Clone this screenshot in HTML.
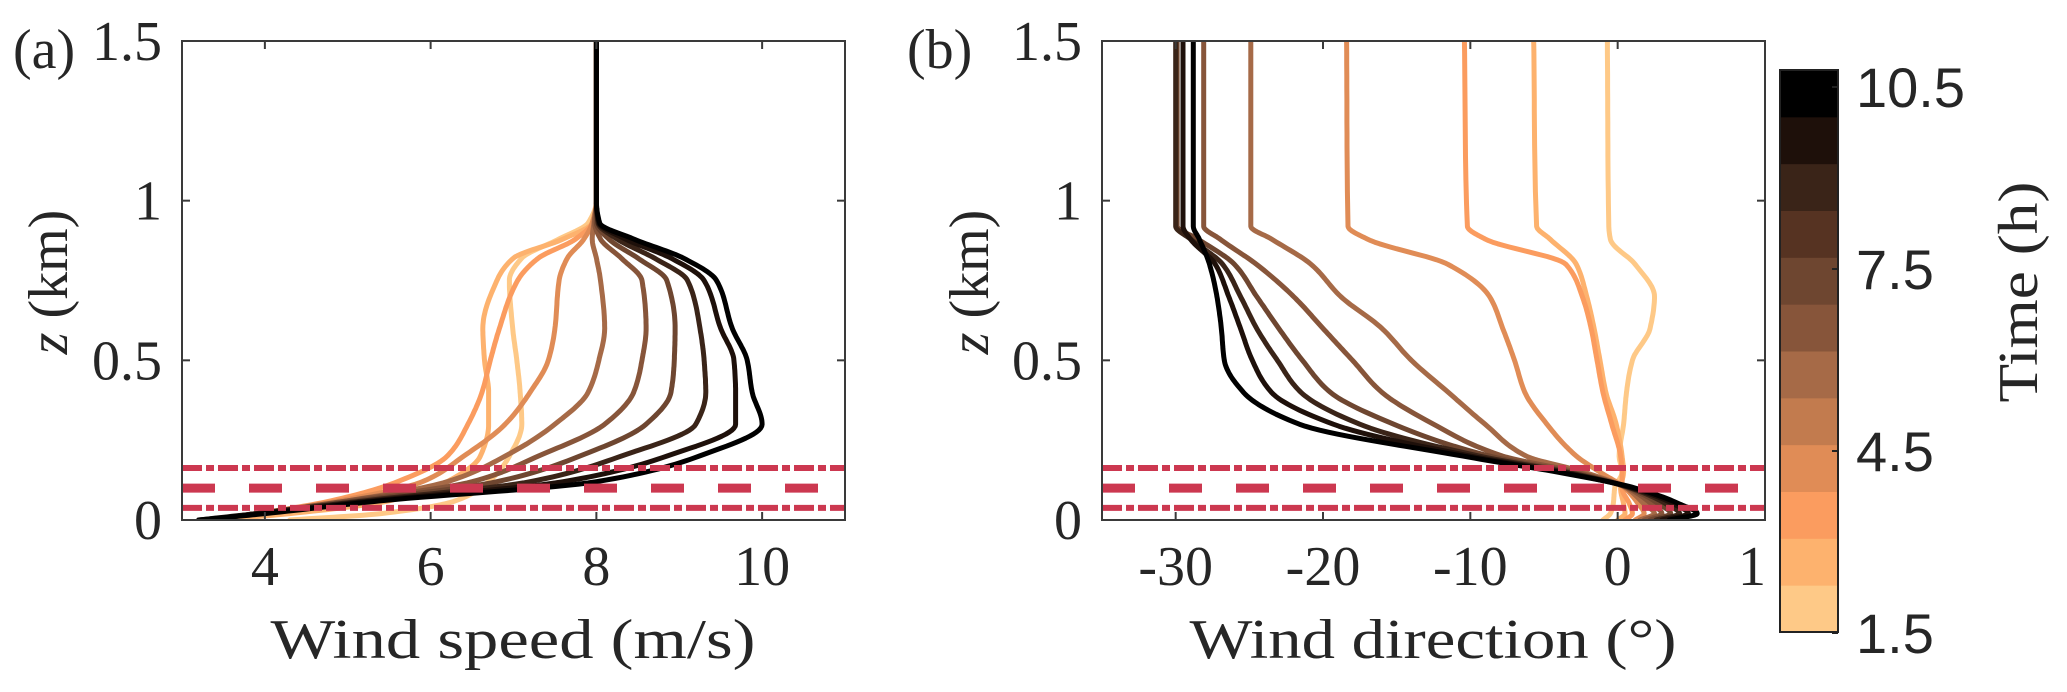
<!DOCTYPE html>
<html><head><meta charset="utf-8"><style>
html,body{margin:0;padding:0;background:#fff;}
svg{display:block;}
.tk{font-family:"Liberation Serif",serif;font-size:56px;fill:#262626;}
.cb{font-family:"Liberation Sans",sans-serif;font-size:56px;fill:#262626;}
</style></head><body>
<svg id="fig" width="2067" height="692" viewBox="0 0 2067 692" xmlns="http://www.w3.org/2000/svg">
<defs>
<clipPath id="clipA"><rect x="182" y="41" width="663" height="479"/></clipPath>
<clipPath id="clipB"><rect x="1102" y="41" width="663" height="479"/></clipPath>
</defs>
<g id="gA"></g>
<g id="gB"></g>
<g id="gC"></g>
<text class="tk" x="13" y="68">(a)</text>
<text class="tk" x="907" y="68">(b)</text>
<text class="tk" x="513" y="658" text-anchor="middle" textLength="485" lengthAdjust="spacingAndGlyphs" font-size="66">Wind speed (m/s)</text>
<text class="tk" x="1433" y="658" text-anchor="middle" textLength="487" lengthAdjust="spacingAndGlyphs" font-size="66">Wind direction (°)</text>
<text class="tk" transform="translate(67,282) rotate(-90)" text-anchor="middle" font-size="64"><tspan font-style="italic">z</tspan> (km)</text>
<text class="tk" transform="translate(988,282) rotate(-90)" text-anchor="middle" font-size="64"><tspan font-style="italic">z</tspan> (km)</text>
<text class="tk" transform="translate(2037,292) rotate(-90)" text-anchor="middle" textLength="221" lengthAdjust="spacingAndGlyphs" font-size="64">Time (h)</text>
</svg>
<script>
const times = [1.5,2.5,3.5,4.5,5.5,6.5,7.5,8.5,9.5,10.5];
const colors = ["#fec987","#fdb26e","#fb9c5f","#e08c56","#a66a47","#87553a","#6e4630","#3a2418","#1e100a","#000000"];
const zA = [1.5,1.0,0.93,0.88,0.82,0.75,0.6,0.5,0.4,0.3,0.2,0.12,0.06,0.02,0.0];
const speed_t1 = [8.0,8.0,7.9,7.55,7.1,6.95,6.99,7.04,7.08,7.1,6.95,6.7,6.3,5.4,4.3];
const speed_t2 = [8.0,8.0,7.95,7.6,7.0,6.8,6.63,6.65,6.7,6.7,6.6,6.2,5.5,4.3,3.4];
const speed_t3 = [8.0,8.0,7.95,7.75,7.3,7.05,6.83,6.72,6.62,6.45,6.2,5.6,4.8,3.9,3.3];
const speed_t4 = [8.0,8.0,7.95,7.85,7.65,7.55,7.5,7.42,7.2,6.9,6.4,5.9,4.9,3.9,3.3];
const speed_t5 = [8.0,8.0,7.97,7.95,8.0,8.05,8.1,8.03,7.9,7.5,6.9,6.2,5.0,3.9,3.3];
const speed_t6 = [8.0,8.0,7.98,8.05,8.3,8.55,8.6,8.55,8.45,8.1,7.3,6.5,5.0,3.9,3.3];
const speed_t7 = [8.0,8.0,8.0,8.15,8.5,8.85,8.95,8.94,8.9,8.6,7.8,6.8,5.1,3.9,3.3];
const speed_t8 = [8.0,8.0,8.02,8.25,8.7,9.1,9.25,9.30,9.32,9.2,8.3,7.2,5.2,3.9,3.3];
const speed_t9 = [8.0,8.0,8.03,8.35,8.9,9.3,9.5,9.66,9.68,9.68,8.85,7.6,5.3,3.9,3.2];
const speed_t10 = [8.0,8.0,8.04,8.45,9.05,9.45,9.64,9.82,9.88,10.0,9.24,8.0,5.4,4.0,3.2];
const zB = [1.5,0.92,0.88,0.8,0.7,0.6,0.5,0.4,0.3,0.2,0.15,0.1,0.05,0.02,0.0];
const dir_t1 = [-0.7,-0.6,-0.5,1.2,2.5,2.2,1.0,0.6,0.4,0.1,0.3,-0.2,-0.3,-0.5,-1.0];
const dir_t2 = [-5.7,-5.5,-4.6,-2.8,-2.1,-1.6,-1.2,-0.8,-0.1,0.3,0.4,0.2,0.4,0.5,0.0];
const dir_t3 = [-10.4,-10.2,-9,-3.5,-2.4,-1.8,-1.4,-1.0,-0.4,0.2,0.3,0.3,0.8,1.0,0.5];
const dir_t4 = [-18.4,-18.3,-17,-11.5,-8.7,-7.8,-7.0,-6.3,-4.8,-2.8,-1.2,0.5,1.4,1.8,1.2];
const dir_t5 = [-24.9,-24.9,-23.5,-20.8,-18.8,-16,-14,-11.5,-9,-6.2,-2.3,0.6,1.8,2.5,1.5];
const dir_t6 = [-28.1,-28.1,-27.0,-24.5,-22.0,-20,-18,-16,-12.5,-7.8,-2.8,0.7,2.3,3.0,1.8];
const dir_t7 = [-29.9,-29.9,-28.5,-26,-24.5,-23,-21.4,-19.5,-15.2,-8.7,-3.2,0.8,2.8,3.6,2.2];
const dir_t8 = [-30.0,-30.0,-29,-26.8,-25.6,-24.5,-23.1,-21.5,-17.5,-9.4,-3.5,0.9,3.3,4.2,2.6];
const dir_t9 = [-29.5,-29.5,-29,-27.3,-26.4,-25.6,-24.8,-23.5,-19.3,-10,-3.8,1.0,3.8,4.8,3.0];
const dir_t10 = [-28.8,-28.8,-28.4,-27.7,-27.2,-26.9,-26.7,-25.4,-21.6,-10.5,-4.1,1.2,4.2,5.4,3.5];
const speeds = [speed_t1,speed_t2,speed_t3,speed_t4,speed_t5,speed_t6,speed_t7,speed_t8,speed_t9,speed_t10];
const dirs = [dir_t1,dir_t2,dir_t3,dir_t4,dir_t5,dir_t6,dir_t7,dir_t8,dir_t9,dir_t10];
const xTicksA = [4,6,8,10];
const xTickLabelsA = ["4","6","8","10"];
const xTicksB = [-30,-20,-10,0,10];
const xTickLabelsB = ["-30","-20","-10","0","1"];
const yTicks = [0,0.5,1,1.5];
const yTickLabels = ["0","0.5","1","1.5"];
const refHeights = [0.038,0.10,0.163];
const cbTicks = [1.5,4.5,7.5,10.5];
const cbTickLabels = ["1.5","4.5","7.5","10.5"];
const cbBands = ["#fec987","#fdb26e","#fb9c5f","#e08c56","#c27b4e","#a66a47","#87553a","#6e4630","#563322","#3a2418","#1e100a","#000000"];

const NS="http://www.w3.org/2000/svg";
function mk(tag, attrs, parent){const e=document.createElementNS(NS,tag);for(const k in attrs)e.setAttribute(k,attrs[k]);parent.appendChild(e);return e;}
const TOP=41,BOT=520,ZMAX=1.5;
function yS(z){return BOT-(z/ZMAX)*(BOT-TOP);}
function mkX(x0,x1,a,b){return v=>x0+(v-a)/(b-a)*(x1-x0);}
const xA=mkX(182,845,3,11), xB=mkX(1102,1765,-35,10);
// monotone cubic (Fritsch-Carlson) of v as a function of z
function monotonePath(zs,vs,xs){
  const n=zs.length,h=[],d=[],m=new Array(n);
  for(let i=0;i<n-1;i++){h.push(zs[i+1]-zs[i]);d.push((vs[i+1]-vs[i])/h[i]);}
  m[0]=d[0];m[n-1]=d[n-2];
  for(let i=1;i<n-1;i++){m[i]=(d[i-1]*d[i]<=0)?0:(3*(h[i-1]+h[i]))/((2*h[i]+h[i-1])/d[i-1]+(h[i]+2*h[i-1])/d[i]);}
  let out=[];
  for(let i=0;i<n-1;i++){
    const N=16;
    for(let k=0;k<(i===n-2?N+1:N);k++){
      const t=k/N,t2=t*t,t3=t2*t;
      const v=(2*t3-3*t2+1)*vs[i]+(t3-2*t2+t)*h[i]*m[i]+(-2*t3+3*t2)*vs[i+1]+(t3-t2)*h[i]*m[i+1];
      const z=zs[i]+t*h[i];
      out.push(xs(v).toFixed(1)+","+yS(z).toFixed(1));
    }
  }
  return "M"+out.join("L");
}
function panel(g,x0,x1,xs,xt,xtl,clip,series,zs,tag){
  const lines=mk("g",{"clip-path":"url(#"+clip+")"},g);
  series.forEach((arr,i)=>{
    const p=mk("path",{d:monotonePath(zs,arr,xs),fill:"none",stroke:colors[i],"stroke-width":5,"stroke-linejoin":"round","stroke-linecap":"round"},lines);
    
    
  });
  refHeights.forEach((hgt,k)=>{
    const y=yS(hgt);
    const dashed=(k===1);
    const l=mk("line",{x1:x0,x2:x1,y1:y,y2:y,stroke:"#cc3850","stroke-width":dashed?9:6,"stroke-dasharray":dashed?"33 34":"20 4 8 4"},lines);
    
    
  });
  const box=mk("rect",{x:x0,y:TOP,width:x1-x0,height:BOT-TOP,fill:"none",stroke:"#3a3a3a","stroke-width":2},g);
  
  
  xt.forEach((v,i)=>{
    const x=xs(v);
    mk("line",{x1:x,x2:x,y1:BOT,y2:BOT-8,stroke:"#3a3a3a","stroke-width":2},g);
    mk("line",{x1:x,x2:x,y1:TOP,y2:TOP+8,stroke:"#3a3a3a","stroke-width":2},g);
    const t=mk("text",{class:"tk",x:(xtl[i]==="1"?x-13:x),y:585,"text-anchor":"middle"},g);
    t.textContent=xtl[i];
    
    
  });
  yTicks.forEach((v,i)=>{
    const y=yS(v);
    mk("line",{x1:x0,x2:x0+8,y1:y,y2:y,stroke:"#3a3a3a","stroke-width":2},g);
    mk("line",{x1:x1,x2:x1-8,y1:y,y2:y,stroke:"#3a3a3a","stroke-width":2},g);
    const t=mk("text",{class:"tk",x:x0-20,y:y+19,"text-anchor":"end"},g);
    t.textContent=yTickLabels[i];
    
    
  });
}
panel(document.getElementById("gA"),182,845,xA,xTicksA,xTickLabelsA,"clipA",speeds,zA,"speed");
panel(document.getElementById("gB"),1102,1765,xB,xTicksB,xTickLabelsB,"clipB",dirs,zB,"direction");
const gC=document.getElementById("gC");
const CB_T=70,CB_B=632,CB_L=1780,CB_R=1838;
const bh=(CB_B-CB_T)/cbBands.length;
cbBands.forEach((c,i)=>{
  const r=mk("rect",{x:CB_L,y:CB_B-(i+1)*bh,width:CB_R-CB_L,height:bh+0.5,fill:c},gC);
  
  
});
mk("rect",{x:CB_L,y:CB_T,width:CB_R-CB_L,height:CB_B-CB_T,fill:"none",stroke:"#222","stroke-width":2},gC);
const cbY=v=>633-(v-1.5)/9*(633-87);
cbTicks.forEach((v,i)=>{
  const y=cbY(v);
  mk("line",{x1:CB_R,x2:CB_R-6,y1:y,y2:y,stroke:"#222","stroke-width":2},gC);
  const t=mk("text",{class:"cb",x:1856,y:y+20},gC);
  t.textContent=cbTickLabels[i];
  
  
});
</script>
</body></html>
